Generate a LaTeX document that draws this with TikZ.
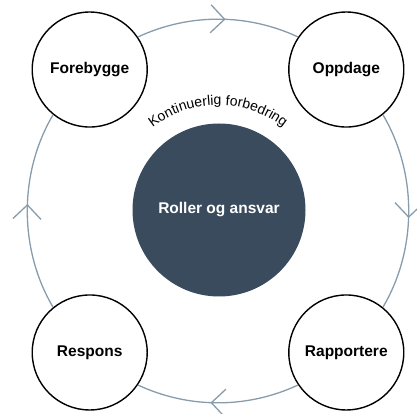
\documentclass[tikz,border=0pt]{standalone}
\usepackage{fontspec}
\setmainfont{Liberation Sans}
\usetikzlibrary{decorations.markings,decorations.text,positioning}
\definecolor{ringgray}{RGB}{136,156,172}
\definecolor{roledark}{RGB}{58,75,93}

\begin{document}
\begin{tikzpicture}[x=1pt,y=1pt,
  phase/.style={circle, draw=black, line width=1.4pt, fill=white, minimum size=115pt, inner sep=0pt, font=\fontsize{15.5}{18}\selectfont\bfseries},
  core/.style={circle, fill=roledark, minimum size=173pt, inner sep=0pt, text=white, font=\fontsize{15.5}{18}\selectfont\bfseries},
  cycle/.style={draw=ringgray, line width=1.3pt, looseness=0.9,
    decoration={markings, mark=at position #1 with {\draw[ringgray, line width=1.3pt] (-14pt,14pt) -- (0pt,0pt) -- (-14pt,-14pt);}},
    postaction={decorate}}]
\useasboundingbox (-218pt,-203pt) rectangle (199pt,211pt);
% the four phases on the ring
\node[phase] (fore) at (132.2:191pt) {Forebygge};
\node[phase] (opp) at (47.8:191pt) {Oppdage};
\node[phase] (rap) at (-47.8:191pt) {Rapportere};
\node[phase] (resp) at (-132.2:191pt) {Respons};
\node[core] (roles) at (1pt,1pt) {Roller og ansvar};
% ring, clockwise
\draw[cycle=0.54] (fore.34) to[bend left=25] (opp.146);
\draw[cycle=0.53] (opp.-51) to[bend left=30.6] (rap.51);
\draw[cycle=0.54] (rap.-146) to[bend left=25] (resp.-34);
\draw[cycle=0.53] (resp.129) to[bend left=30.6] (fore.-129);
\path[decorate, decoration={text along path, text align=center,
  text={|\fontsize{14}{16}\selectfont|Kontinuerlig forbedring}}]
  (150:106pt) arc[start angle=150, end angle=30, radius=106pt];
\end{tikzpicture}
\end{document}
